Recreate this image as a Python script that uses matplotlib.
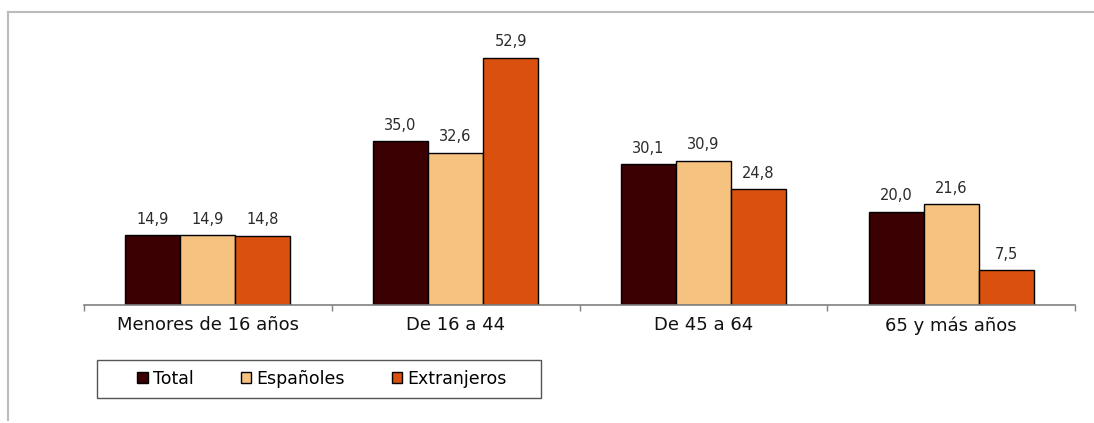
import matplotlib
matplotlib.use("Agg")
import matplotlib.pyplot as plt
from matplotlib.lines import Line2D
from matplotlib.patches import Rectangle
import numpy as np

plt.rcParams['font.family'] = ['DejaVu Sans']

categories = ["Menores de 16 años", "De 16 a 44", "De 45 a 64", "65 y más años"]
series_names = ["Total", "Españoles", "Extranjeros"]
total = [14.9, 35.0, 30.1, 20.0]
espanoles = [14.9, 32.6, 30.9, 21.6]
extranjeros = [14.8, 52.9, 24.8, 7.5]
colors = ["#3a0002", "#f5c27f", "#d9500f"]

W, H = 1094, 423
fig = plt.figure(figsize=(W / 100, H / 100), dpi=100)
ax = fig.add_axes([84 / W, 1 - 305 / H, (1075 - 84) / W, 285 / H])

x = np.arange(len(categories))
bw = 0.222
data = [total, espanoles, extranjeros]
for i, (vals, name, c) in enumerate(zip(data, series_names, colors)):
    pos = x + (i - 1) * bw
    ax.bar(pos, vals, width=bw, color=c, edgecolor="black", linewidth=1.0, label=name)
    for p, v in zip(pos, vals):
        ax.text(p, v + 1.8, f"{v:.1f}".replace(".", ","), ha="center", va="bottom",
                fontsize=10.5, color="#2a2a2a")

ax.set_xlim(-0.5, len(categories) - 0.5)
ax.set_ylim(0, 61)
for s in ["top", "right", "left"]:
    ax.spines[s].set_visible(False)
ax.spines["bottom"].set_color("#808080")
ax.spines["bottom"].set_linewidth(1.2)
ax.set_yticks([])
ax.set_xticks(np.arange(-0.5, len(categories)), minor=False)
ax.set_xticklabels([])
ax.tick_params(axis="x", length=4, color="#808080", width=1, direction="out")
for xi, c in zip(x, categories):
    ax.text(xi, -0.04, c, transform=ax.get_xaxis_transform(), ha="center", va="top",
            fontsize=13, color="#111111")

handles, labels = ax.get_legend_handles_labels()
leg = fig.legend(handles, labels, loc="center", bbox_to_anchor=(322 / W, 1 - 379 / H), ncol=3,
                 frameon=False, fontsize=12.5,
                 handlelength=0.6, handleheight=0.6, handletextpad=0.3,
                 columnspacing=2.7)
for h in leg.legend_handles:
    h.set_edgecolor("black")
    h.set_linewidth(1.0)

fig.add_artist(Rectangle((97 / W, 1 - 398 / H), (541 - 97) / W, 38 / H,
                         transform=fig.transFigure, fill=False, edgecolor="#555555",
                         linewidth=1.0))

# image frame lines
fig.add_artist(Line2D([8 / W, 1], [1 - 12 / H, 1 - 12 / H], transform=fig.transFigure,
                      color="#bbbbbb", linewidth=1.5))
fig.add_artist(Line2D([8 / W, 8 / W], [1 - 12 / H, 1 - 420 / H], transform=fig.transFigure,
                      color="#bbbbbb", linewidth=1.5))

fig.savefig("out.png", dpi=100)
